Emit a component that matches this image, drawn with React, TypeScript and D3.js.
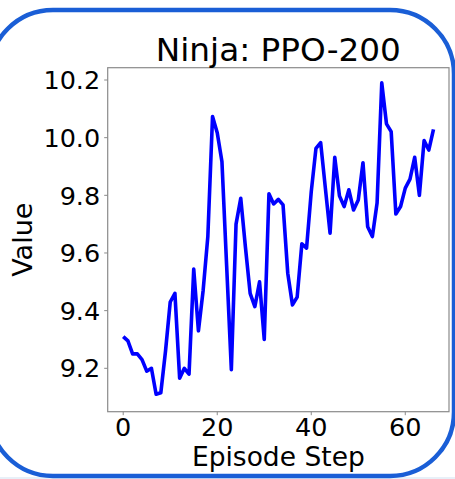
import React from "react";
import * as d3 from "d3";

const title = "Ninja: PPO-200";
const xLabel = "Episode Step";
const yLabel = "Value";
const xTicks = [0, 20, 40, 60];
const yTicks = [9.2, 9.4, 9.6, 9.8, 10.0, 10.2];
const values = [
  9.31, 9.295, 9.25, 9.25, 9.23, 9.19, 9.2, 9.11, 9.115, 9.26,
  9.43, 9.46, 9.166, 9.2, 9.18, 9.544, 9.33, 9.47, 9.657, 10.073,
  10.017, 9.917, 9.556, 9.195, 9.7, 9.79, 9.62, 9.46, 9.414, 9.5,
  9.3, 9.805, 9.77, 9.786, 9.767, 9.53, 9.42, 9.447, 9.632, 9.617,
  9.813, 9.963, 9.983, 9.825, 9.669, 9.932, 9.798, 9.761, 9.819, 9.749,
  9.784, 9.913, 9.691, 9.657, 9.773, 10.19, 10.048, 10.021, 9.735, 9.761,
  9.825, 9.856, 9.932, 9.8, 9.99, 9.957, 10.029,
];

export default function App() {
  const W = 455, H = 479;
  const left = 107.7, right = 449, top = 67.7, bottom = 411.7;
  const n = values.length - 1;
  const pad = n * 0.05;
  const x = d3.scaleLinear().domain([-pad, n + pad]).range([left, right]);
  const y = d3.scaleLinear().domain([9.2, 10.2]).range([368.3, 80]);
  const line = d3
    .line<number>()
    .x((_, i) => x(i))
    .y((d) => y(d));
  const font = "DejaVu Sans";
  const axisColor = "#8a8a8a";
  return (
    <svg
      width={W}
      height={H}
      style={{ position: "absolute", left: 0, top: 0, display: "block" }}
    >
      <rect x={0} y={0} width={W} height={H} fill="#ffffff" />
      <rect x={0} y={477} width={W} height={3} fill="#e8f0f8" />
      <rect
        x={-11}
        y={10}
        width={465}
        height={466}
        rx={64}
        ry={64}
        fill="#ffffff"
        stroke="#1a5ed6"
        strokeWidth={4.5}
      />
      <path
        d={line(values) || ""}
        fill="none"
        stroke="#0000ff"
        strokeWidth={3.6}
        strokeLinejoin="round"
        strokeLinecap="butt"
      />
      <rect
        x={left}
        y={top}
        width={right - left}
        height={bottom - top}
        fill="none"
        stroke={axisColor}
        strokeWidth={1.2}
      />
      {yTicks.map((t) => (
        <g key={"y" + t}>
          <line x1={left - 3.5} x2={left} y1={y(t)} y2={y(t)} stroke={axisColor} strokeWidth={1} />
          <text
            x={left - 7.5}
            y={y(t)}
            dy="0.36em"
            textAnchor="end"
            fontFamily={font}
            fontSize={25.5}
            fill="#000"
          >
            {t.toFixed(1)}
          </text>
        </g>
      ))}
      {xTicks.map((t) => (
        <g key={"x" + t}>
          <line x1={x(t)} x2={x(t)} y1={bottom} y2={bottom + 3.5} stroke={axisColor} strokeWidth={1} />
          <text
            x={x(t)}
            y={436}
            textAnchor="middle"
            fontFamily={font}
            fontSize={25.5}
            fill="#000"
          >
            {t}
          </text>
        </g>
      ))}
      <text
        x={(left + right) / 2}
        y={61}
        textAnchor="middle"
        fontFamily={font}
        fontSize={32.7}
        fill="#000"
      >
        {title}
      </text>
      <text
        x={(left + right) / 2}
        y={466}
        textAnchor="middle"
        fontFamily={font}
        fontSize={26.5}
        fill="#000"
      >
        {xLabel}
      </text>
      <text
        transform={`translate(32, ${(top + bottom) / 2}) rotate(-90)`}
        textAnchor="middle"
        fontFamily={font}
        fontSize={27}
        fill="#000"
      >
        {yLabel}
      </text>
    </svg>
  );
}
